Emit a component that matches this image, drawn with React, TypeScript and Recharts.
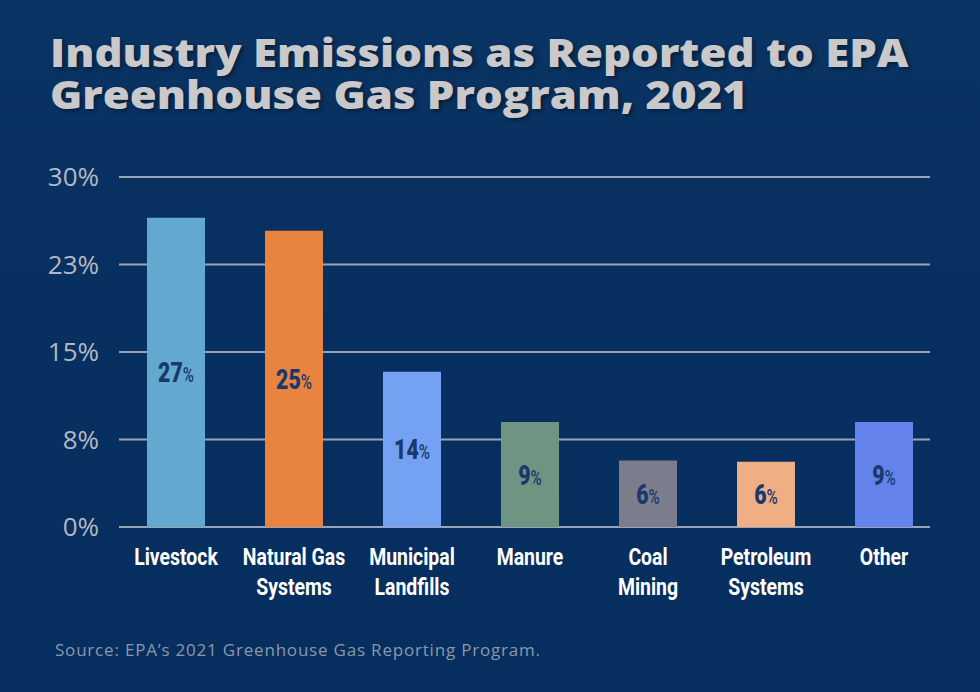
import React from 'react';
import { BarChart, Bar, XAxis, YAxis, CartesianGrid, Cell, LabelList } from 'recharts';

const categories = [
  'Livestock',
  'Natural Gas\nSystems',
  'Municipal\nLandfills',
  'Manure',
  'Coal\nMining',
  'Petroleum\nSystems',
  'Other',
];
const shares = [26.5, 25.4, 13.3, 9.0, 5.7, 5.6, 9.0];
const shareLabels = [27, 25, 14, 9, 6, 6, 9];
const barColors = ['#62a8cf', '#e8843f', '#74a1f2', '#6f9481', '#7b7d8d', '#f0ae85', '#6482ec'];
const yTicks = [0, 7.5, 15, 22.5, 30];
const titleLines = ['Industry Emissions as Reported to EPA', 'Greenhouse Gas Program, 2021'];

const data = categories.map((name, i) => ({ name, value: shares[i], label: shareLabels[i] }));

const GRID = '#9ba4b6';
// no condensed face installed, so squeeze Roboto horizontally
const NARROW = 'Roboto, sans-serif';

const CategoryTick = (props: any) => {
  const { x, y, payload } = props;
  const lines = String(payload.value).split('\n');
  return (
    <g transform={`translate(${x},${y}) scale(0.81,1)`}>
      <text x={0} y={0} textAnchor="middle" fill="#ffffff" fontFamily={NARROW} fontWeight={700} fontSize={24}>
        {lines.map((l, i) => (
          <tspan key={i} x={0} dy={30}>
            {l}
          </tspan>
        ))}
      </text>
    </g>
  );
};

const BarValue = (props: any) => {
  const { x, y, width, height, index } = props;
  const cx = x + width / 2;
  const cy = y + height / 2;
  return (
    <g transform={`translate(${cx},${cy + 10}) scale(0.76,1)`}>
      <text x={0} y={0} textAnchor="middle" fill="#1a386b" fontFamily={NARROW} fontWeight={900}>
        <tspan fontSize={28}>{shareLabels[index]}</tspan>
        <tspan fontSize={20} fontWeight={500}>%</tspan>
      </text>
    </g>
  );
};

export default function App() {
  return (
    <div
      style={{
        position: 'absolute',
        left: 0,
        top: 0,
        width: 980,
        height: 692,
        background: 'linear-gradient(180deg, #0a3464 0%, #072f5f 45%, #062e5e 100%)',
        overflow: 'hidden',
      }}
    >
      {titleLines.map((t, i) => (
        <div
          key={t}
          style={{
            position: 'absolute',
            left: 50,
            top: 31 + i * 42,
            color: '#c9c9cb',
            fontFamily: '"Open Sans", sans-serif',
            fontWeight: 800,
            fontSize: 39,
            lineHeight: '42px',
            whiteSpace: 'nowrap',
            transform: 'scale(1.12, 1)',
            transformOrigin: 'left top',
            textShadow: '2px 2px 4px rgba(0,0,0,0.45)',
          }}
        >
          {t}
        </div>
      ))}
      <BarChart
        width={980}
        height={692}
        data={data}
        margin={{ top: 177, right: 50, bottom: 85, left: 39 }}
      >
        <CartesianGrid vertical={false} stroke={GRID} strokeWidth={2} />
        <XAxis
          dataKey="name"
          axisLine={false}
          tickLine={false}
          interval={0}
          padding={{ left: -2, right: -13 }}
          tick={<CategoryTick />}
          height={80}
        />
        <YAxis
          domain={[0, 30]}
          ticks={yTicks}
          axisLine={false}
          tickLine={false}
          width={80}
          tickMargin={14}
          tick={{ fill: '#b3b8c2', fontSize: 26, fontFamily: '"Open Sans", sans-serif' }}
          tickFormatter={(v: number) => `${Math.round(v)}%`}
        />
        <Bar dataKey="value" barSize={58} isAnimationActive={false}>
          {data.map((d, i) => (
            <Cell key={d.name} fill={barColors[i]} />
          ))}
          <LabelList dataKey="label" content={<BarValue />} />
        </Bar>
      </BarChart>
      <div
        style={{
          position: 'absolute',
          left: 55,
          top: 638,
          color: '#8b98ab',
          fontFamily: '"Open Sans", sans-serif',
          fontSize: 17,
          letterSpacing: 0.8,
        }}
      >
        Source: EPA’s 2021 Greenhouse Gas Reporting Program.
      </div>
    </div>
  );
}
